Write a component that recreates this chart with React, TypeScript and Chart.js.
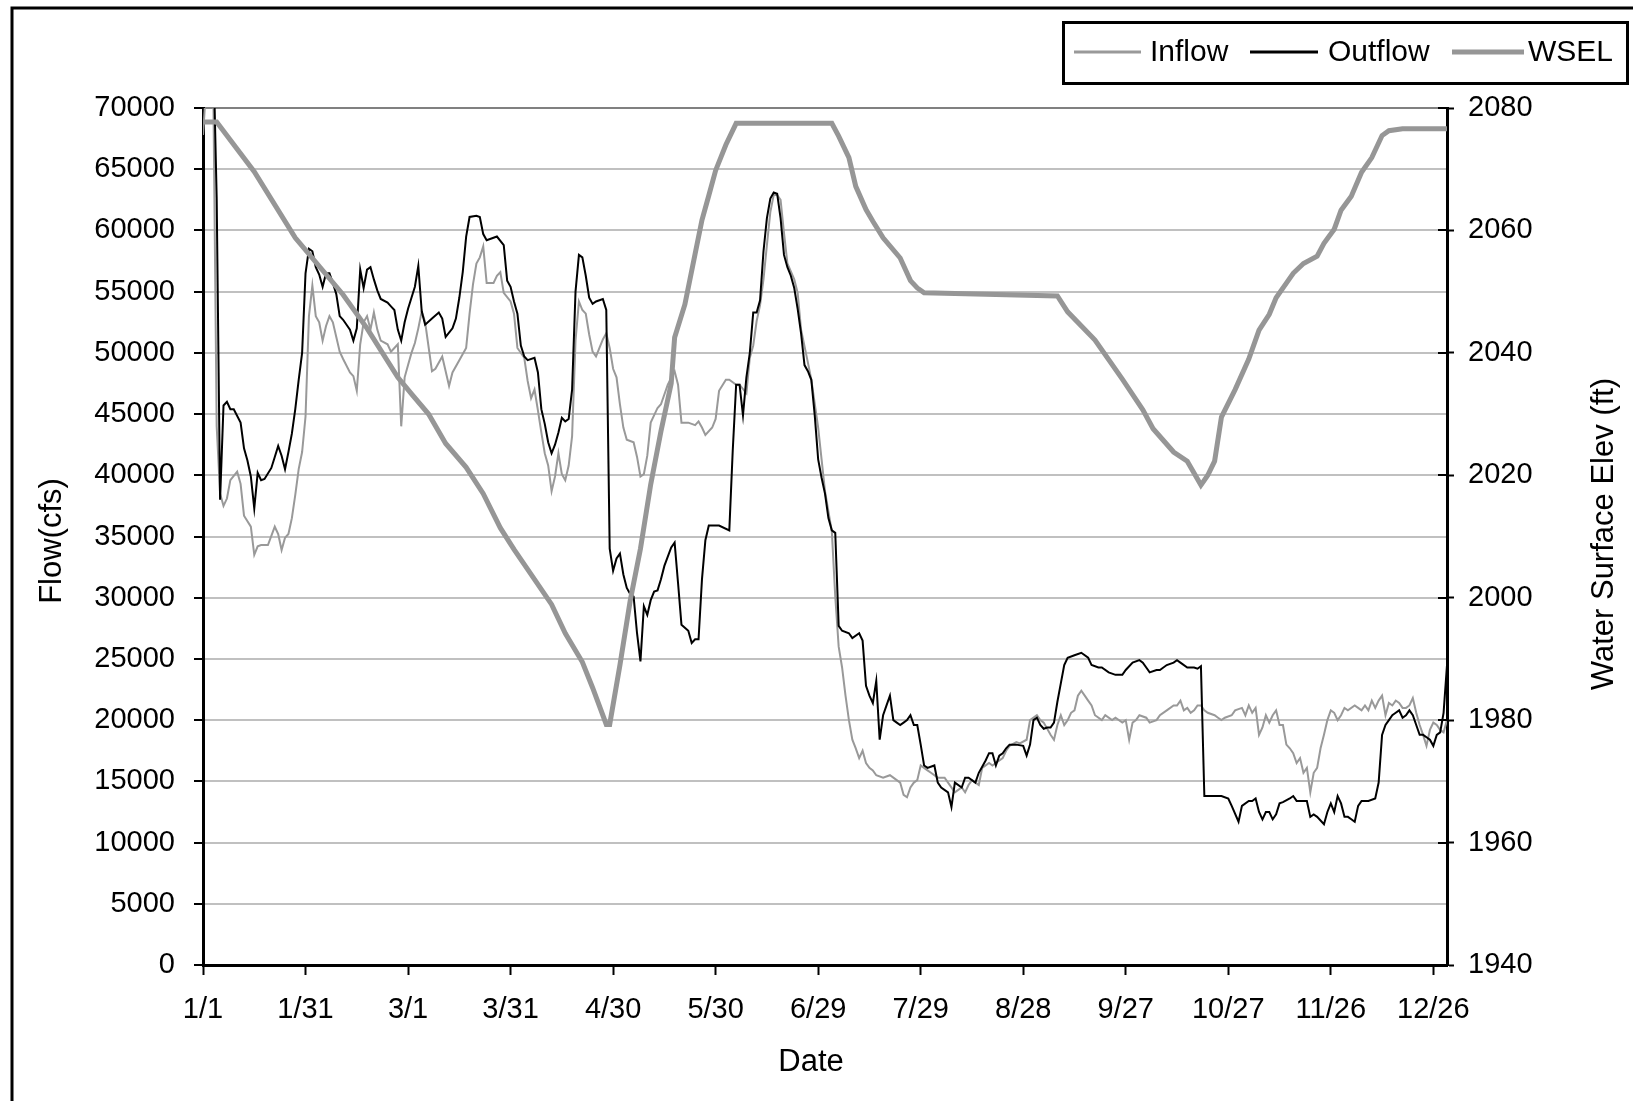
import React, { useEffect, useRef } from "react";
import { Chart, registerables } from "chart.js";

Chart.register(...registerables);

// ---- data (day of year index, 0 = 1/1) ----
const dateTickLabels = ["1/1", "1/31", "3/1", "3/31", "4/30", "5/30", "6/29", "7/29", "8/28", "9/27", "10/27", "11/26", "12/26"];

const inflowDay = [0, 1, 2, 3, 4, 5, 6, 7, 8, 10, 11, 12, 14, 15, 16, 17, 19, 21, 22, 23, 24, 25, 26, 27, 28, 29, 30, 31, 32, 33, 34, 35, 36, 37, 38, 39, 40, 41, 43, 44, 45, 46, 47, 48, 49, 50, 51, 52, 54, 55, 57, 58, 59, 60, 61, 62, 63, 64, 65, 67, 68, 70, 72, 73, 75, 77, 78, 79, 80, 81, 82, 83, 85, 86, 87, 88, 90, 91, 92, 94, 95, 96, 97, 98, 99, 100, 101, 102, 103, 104, 105, 106, 107, 108, 109, 110, 111, 112, 113, 114, 115, 116, 117, 118, 119, 120, 121, 122, 123, 124, 125, 126, 127, 128, 129, 130, 131, 133, 134, 136, 138, 139, 140, 142, 144, 145, 146, 147, 149, 150, 151, 153, 154, 156, 157, 159, 160, 161, 162, 163, 164, 165, 166, 167, 168, 169, 170, 171, 173, 174, 175, 177, 178, 180, 181, 182, 184, 185, 186, 187, 188, 189, 190, 191, 192, 193, 194, 195, 196, 197, 199, 201, 202, 204, 205, 206, 207, 208, 209, 210, 212, 213, 215, 217, 218, 220, 221, 222, 223, 224, 225, 227, 228, 230, 231, 232, 234, 235, 236, 238, 239, 241, 242, 244, 245, 246, 248, 249, 250, 251, 252, 253, 254, 255, 256, 257, 258, 259, 260, 261, 263, 264, 266, 267, 269, 270, 271, 272, 273, 274, 276, 277, 279, 280, 282, 284, 285, 286, 287, 288, 289, 290, 291, 292, 293, 294, 296, 297, 298, 299, 301, 302, 304, 305, 306, 307, 308, 309, 310, 311, 312, 313, 314, 315, 316, 317, 318, 319, 320, 321, 322, 323, 324, 325, 326, 327, 328, 329, 330, 331, 332, 333, 334, 335, 337, 338, 339, 340, 341, 342, 343, 344, 345, 346, 347, 348, 349, 350, 351, 352, 353, 354, 355, 356, 357, 358, 359, 360, 361, 362, 363, 364];
const inflowCfs = [67800, 72000, 72000, 72000, 44000, 38500, 37500, 38100, 39600, 40300, 39300, 36700, 35800, 33500, 34200, 34300, 34300, 35800, 35200, 33900, 34900, 35200, 36500, 38400, 40500, 41900, 44800, 53000, 55500, 53000, 52500, 51000, 52200, 53000, 52500, 51300, 50100, 49500, 48400, 48100, 46900, 50700, 52500, 53000, 51900, 53300, 51900, 51000, 50700, 50100, 50700, 44000, 48000, 49000, 50000, 50800, 52000, 53400, 52500, 48500, 48700, 49700, 47300, 48400, 49400, 50400, 53200, 55600, 57300, 57800, 58700, 55700, 55700, 56300, 56600, 54900, 54200, 53200, 50400, 49600, 47700, 46300, 47000, 45300, 43500, 41800, 40800, 38700, 39900, 41800, 40100, 39600, 40800, 43200, 51000, 54200, 53500, 53200, 51500, 50100, 49700, 50400, 51100, 51600, 50400, 48700, 48000, 45800, 43900, 42900, 42800, 42700, 41500, 39900, 40100, 41600, 44300, 45500, 45800, 47400, 48500, 47400, 44300, 44300, 44100, 44400, 43900, 43300, 43900, 44600, 46900, 47800, 47800, 47400, 47400, 46700, 49600, 50600, 52600, 53900, 56000, 58800, 61500, 62900, 62900, 62500, 59800, 57300, 56000, 54900, 51900, 49200, 47800, 43900, 41300, 38700, 35400, 30100, 26000, 24300, 22000, 20000, 18400, 17700, 16900, 17500, 16500, 16100, 15900, 15500, 15300, 15500, 15300, 14900, 13900, 13700, 14500, 14900, 15100, 16300, 15900, 15700, 15300, 15300, 14900, 14100, 14300, 14500, 14100, 14700, 15100, 14700, 16100, 16500, 16300, 16500, 16900, 17500, 17900, 18200, 18100, 18400, 20000, 20400, 20000, 19800, 18800, 18400, 19600, 20400, 19600, 20000, 20600, 20800, 22000, 22400, 22000, 21600, 21200, 20400, 20000, 20400, 20000, 20200, 19800, 20000, 18400, 19800, 20000, 20400, 20200, 19800, 20000, 20400, 20800, 21200, 21200, 21600, 20800, 21000, 20600, 20800, 21200, 21200, 20800, 20600, 20400, 20200, 20000, 20200, 20400, 20800, 21000, 20400, 21200, 20600, 21000, 18800, 19400, 20400, 19800, 20400, 20800, 19600, 19600, 18000, 17700, 17300, 16500, 16900, 15700, 16100, 14100, 15700, 16100, 17700, 18800, 20000, 20800, 20600, 20000, 20400, 21000, 20800, 21200, 21000, 20800, 21200, 20800, 21600, 21000, 21600, 22000, 20400, 21400, 21200, 21600, 21400, 21000, 21000, 21200, 21800, 20600, 19600, 18800, 17900, 19200, 19800, 19600, 19200, 19000, 20000];

const outflowDay = [0, 1, 2, 3, 4, 5, 6, 7, 8, 9, 11, 12, 13, 14, 15, 16, 17, 18, 20, 21, 22, 23, 24, 25, 26, 27, 28, 29, 30, 31, 32, 33, 34, 35, 36, 37, 38, 39, 40, 41, 42, 43, 44, 45, 46, 47, 48, 49, 50, 51, 52, 54, 55, 56, 57, 58, 59, 60, 61, 62, 63, 64, 65, 67, 69, 70, 71, 73, 74, 75, 76, 77, 78, 80, 81, 82, 83, 85, 86, 88, 89, 90, 91, 92, 93, 94, 95, 97, 98, 99, 100, 101, 102, 103, 104, 105, 106, 107, 108, 109, 110, 111, 112, 113, 114, 115, 117, 118, 119, 120, 121, 122, 123, 124, 125, 126, 127, 128, 129, 130, 131, 132, 133, 134, 135, 137, 138, 139, 140, 142, 143, 144, 145, 146, 147, 148, 151, 154, 155, 156, 157, 158, 159, 160, 161, 162, 163, 164, 165, 166, 167, 168, 169, 170, 171, 172, 173, 174, 175, 176, 177, 178, 179, 180, 181, 182, 183, 184, 185, 186, 187, 189, 190, 192, 193, 194, 195, 196, 197, 198, 199, 200, 201, 202, 203, 204, 205, 206, 207, 208, 209, 210, 211, 212, 214, 215, 216, 218, 219, 220, 222, 223, 224, 226, 227, 229, 230, 231, 232, 233, 234, 235, 236, 238, 240, 241, 242, 243, 244, 245, 246, 247, 248, 249, 250, 251, 252, 253, 255, 257, 259, 260, 262, 263, 265, 267, 269, 270, 272, 274, 275, 276, 277, 279, 280, 282, 284, 285, 286, 288, 290, 291, 292, 293, 294, 296, 298, 300, 301, 303, 304, 306, 307, 308, 309, 310, 311, 312, 313, 314, 315, 316, 318, 319, 320, 321, 323, 324, 325, 326, 328, 329, 330, 331, 332, 333, 334, 335, 336, 337, 338, 339, 341, 343, 344, 345, 346, 347, 348, 349, 350, 351, 352, 353, 354, 355, 356, 357, 358, 359, 360, 361, 362, 363, 364];
const outflowCfs = [75000, 75000, 75000, 75000, 62700, 38000, 45700, 46000, 45400, 45400, 44300, 42200, 41200, 39900, 37300, 40200, 39600, 39700, 40600, 41500, 42400, 41600, 40500, 41900, 43400, 45400, 47800, 50000, 56500, 58500, 58300, 57000, 56400, 55400, 56500, 56500, 55700, 54800, 53000, 52700, 52300, 51900, 51000, 52000, 56800, 55300, 56800, 57000, 56000, 55100, 54400, 54100, 53800, 53500, 51900, 51000, 52500, 53600, 54500, 55400, 57100, 53400, 52300, 52800, 53300, 52800, 51300, 52000, 52800, 54500, 56600, 59500, 61100, 61200, 61100, 59700, 59200, 59400, 59500, 58800, 55900, 55400, 54200, 53200, 50600, 49700, 49400, 49600, 48400, 45400, 44200, 42700, 41800, 42500, 43500, 44700, 44400, 44600, 47000, 55000, 58000, 57800, 56300, 54500, 54000, 54200, 54400, 53500, 34000, 32200, 33200, 33600, 31900, 30800, 30300, 30100, 27100, 24800, 29300, 28600, 29800, 30500, 30600, 31500, 32600, 34100, 34500, 31200, 27800, 27300, 26300, 26600, 26600, 31500, 34700, 35900, 35900, 35500, 42000, 47400, 47400, 44900, 48000, 50000, 53300, 53300, 54300, 58300, 61000, 62600, 63100, 63000, 61000, 58000, 57000, 56300, 55300, 53600, 51600, 49000, 48500, 47800, 44900, 41300, 39800, 38500, 36500, 35500, 35300, 27700, 27300, 27100, 26700, 27100, 26500, 22800, 22000, 21400, 23200, 18400, 20400, 21200, 22000, 20000, 19800, 19600, 19800, 20000, 20400, 19600, 19600, 18000, 16300, 16100, 16300, 14900, 14500, 14100, 12900, 14900, 14500, 15300, 15300, 14900, 15700, 16700, 17300, 17300, 16300, 17100, 17300, 17700, 18000, 18000, 17900, 17100, 18000, 20000, 20200, 19600, 19300, 19400, 19400, 19800, 21500, 23000, 24500, 25100, 25300, 25500, 25100, 24500, 24300, 24300, 23900, 23700, 23700, 24100, 24700, 24900, 24700, 24300, 23900, 24100, 24100, 24500, 24700, 24900, 24700, 24300, 24300, 24200, 24400, 13800, 13800, 13800, 13800, 13600, 13000, 11700, 13000, 13400, 13400, 13600, 12500, 11900, 12500, 12500, 11900, 12300, 13200, 13300, 13600, 13800, 13400, 13400, 13400, 12100, 12300, 12100, 11500, 12500, 13200, 12500, 13800, 13200, 12100, 12100, 11900, 11700, 13000, 13400, 13400, 13600, 14900, 18800, 19600, 20000, 20400, 20600, 20800, 20200, 20400, 20800, 20400, 19600, 18800, 18800, 18600, 18400, 17900, 18800, 19000, 20600, 24500];

const wselDay = [0, 4, 15, 27, 41, 48, 57, 61, 66, 71, 77, 82, 87, 91, 97, 102, 106, 111, 114, 118, 119, 122, 125, 128, 131, 134, 137, 138, 141, 144, 146, 148, 150, 153, 156, 184, 186, 189, 191, 194, 196, 199, 204, 207, 209, 211, 220, 250, 253, 261, 269, 275, 278, 284, 288, 292, 294, 296, 298, 302, 306, 309, 312, 314, 317, 319, 322, 326, 328, 331, 333, 336, 339, 342, 345, 347, 351, 364];
const wselFt = [2077.7, 2077.7, 2069.6, 2058.8, 2049.5, 2044, 2036, 2033.3, 2030, 2025.2, 2021.3, 2017, 2011.4, 2007.9, 2003, 1998.9, 1994.2, 1989.5, 1985.3, 1979.3, 1979.3, 1989, 1999.5, 2008, 2018.5, 2027.2, 2035, 2042.5, 2047.9, 2056.2, 2061.7, 2065.7, 2069.8, 2074, 2077.5, 2077.5, 2075.4, 2071.9, 2067.2, 2063.4, 2061.5, 2058.8, 2055.5, 2051.8, 2050.6, 2049.8, 2049.7, 2049.3, 2046.7, 2042.1, 2035.7, 2030.7, 2027.6, 2023.8, 2022.3, 2018.4, 2020, 2022.3, 2029.5, 2034, 2039, 2043.7, 2046.3, 2049, 2051.4, 2053, 2054.6, 2055.8, 2057.9, 2060.2, 2063.3, 2065.6, 2069.5, 2071.9, 2075.5, 2076.3, 2076.6, 2076.6];

const FONT = '"Liberation Sans", Arial, Helvetica, sans-serif';

const toPoints = (days: number[], vals: number[]) => days.map((d, i) => ({ x: d, y: vals[i] }));

const decorPlugin = {
  id: "decor",
  beforeDraw(chart: any) {
    const c = chart.ctx;
    c.save();
    c.fillStyle = "#ffffff";
    c.fillRect(0, 0, chart.width, chart.height);
    c.restore();
  },
  afterDraw(chart: any) {
    const c = chart.ctx;
    c.save();
    // outer frame
    c.strokeStyle = "#000";
    c.lineWidth = 3;
    c.beginPath();
    c.moveTo(12, chart.height + 5);
    c.lineTo(12, 8);
    c.lineTo(chart.width + 5, 8);
    c.stroke();

    // right axis tick marks also cross into the plot
    const s2 = chart.scales.y2;
    c.strokeStyle = "#000";
    c.lineWidth = 2;
    s2.ticks.forEach((t: any) => {
      const py = Math.round(s2.getPixelForValue(t.value));
      c.beginPath();
      c.moveTo(s2.left - 9, py);
      c.lineTo(s2.left, py);
      c.stroke();
    });

    // legend box
    c.lineWidth = 3;
    c.strokeRect(1063.5, 22.5, 564, 61);
    const lineSeg = [[1074, 1141], [1250, 1318], [1452, 1524]];
    const textX = [1150, 1328, 1528];
    c.font = `30px ${FONT}`;
    c.textBaseline = "middle";
    c.textAlign = "left";
    chart.data.datasets.forEach((ds: any, i: number) => {
      c.strokeStyle = ds.borderColor;
      c.lineWidth = ds.borderWidth >= 4 ? 5 : 3;
      c.beginPath();
      c.moveTo(lineSeg[i][0], 52);
      c.lineTo(lineSeg[i][1], 52);
      c.stroke();
      c.fillStyle = "#000";
      c.fillText(ds.label, textX[i], 53);
    });

    // axis titles
    c.fillStyle = "#000";
    c.font = `31px ${FONT}`;
    c.textAlign = "center";
    c.textBaseline = "middle";
    c.save();
    c.translate(52, 541);
    c.rotate(-Math.PI / 2);
    c.fillText("Flow(cfs)", 0, 0);
    c.restore();
    c.save();
    c.translate(1604, 534);
    c.rotate(-Math.PI / 2);
    c.fillText("Water Surface Elev (ft)", 0, 0);
    c.restore();
    c.fillText("Date", 811, 1062);
    c.restore();
  },
};

export default function App() {
  const ref = useRef<HTMLCanvasElement | null>(null);
  useEffect(() => {
    if (!ref.current) return;
    const tickFont = { family: FONT, size: 29 };
    const chart = new Chart(ref.current, {
      type: "line",
      data: {
        datasets: [
          {
            label: "Inflow",
            data: toPoints(inflowDay, inflowCfs),
            borderColor: "#999999",
            borderWidth: 2,
            pointRadius: 0,
            tension: 0,
            yAxisID: "y",
            order: 3,
          },
          {
            label: "Outflow",
            data: toPoints(outflowDay, outflowCfs),
            borderColor: "#000000",
            borderWidth: 2,
            pointRadius: 0,
            tension: 0,
            yAxisID: "y",
            order: 2,
          },
          {
            label: "WSEL",
            data: toPoints(wselDay, wselFt),
            borderColor: "#969696",
            borderWidth: 5,
            pointRadius: 0,
            tension: 0,
            yAxisID: "y2",
            order: 1,
          },
        ],
      },
      options: {
        animation: false,
        responsive: false,
        devicePixelRatio: 1,
        events: [],
        layout: { padding: { top: 108, left: 0, right: 0, bottom: 0 } },
        plugins: { legend: { display: false }, tooltip: { enabled: false } },
        scales: {
          x: {
            type: "linear",
            min: 0,
            max: 364,
            ticks: {
              stepSize: 30,
              includeBounds: false,
              autoSkip: false,
              maxRotation: 0,
              font: tickFont,
              color: "#000",
              padding: 18,
              callback: (v: any) => dateTickLabels[Math.round(Number(v) / 30)] ?? "",
            },
            grid: { drawOnChartArea: false, drawTicks: true, tickLength: 10, tickColor: "#000", tickWidth: 2 },
            border: { color: "#000", width: 3 },
            afterFit: (s: any) => {
              s.height = 136;
            },
          },
          y: {
            position: "left",
            min: 0,
            max: 70000,
            ticks: { stepSize: 5000, font: tickFont, color: "#000", padding: 19, callback: (v: any) => String(v) },
            grid: {
              color: (ctx: any) => (ctx.tick && ctx.tick.value === 70000 ? "#808080" : "#c0c0c0"),
              lineWidth: 2,
              tickLength: 9,
              tickColor: "#000",
              tickWidth: 2,
            },
            border: { color: "#000", width: 3 },
            afterFit: (s: any) => {
              s.width = 203;
            },
          },
          y2: {
            position: "right",
            min: 1940,
            max: 2080,
            ticks: { stepSize: 20, font: tickFont, color: "#000", padding: 14, callback: (v: any) => String(v) },
            grid: { drawOnChartArea: false, drawTicks: true, tickLength: 7, tickColor: "#000", tickWidth: 2 },
            border: { color: "#000", width: 3 },
            afterFit: (s: any) => {
              s.width = 186;
            },
          },
        },
      } as any,
      plugins: [decorPlugin],
    });
    return () => chart.destroy();
  }, []);
  return (
    <div style={{ position: "absolute", left: 0, top: 0, width: 1633, height: 1101, overflow: "hidden" }}>
      <canvas ref={ref} width={1633} height={1101} style={{ display: "block" }} />
    </div>
  );
}
